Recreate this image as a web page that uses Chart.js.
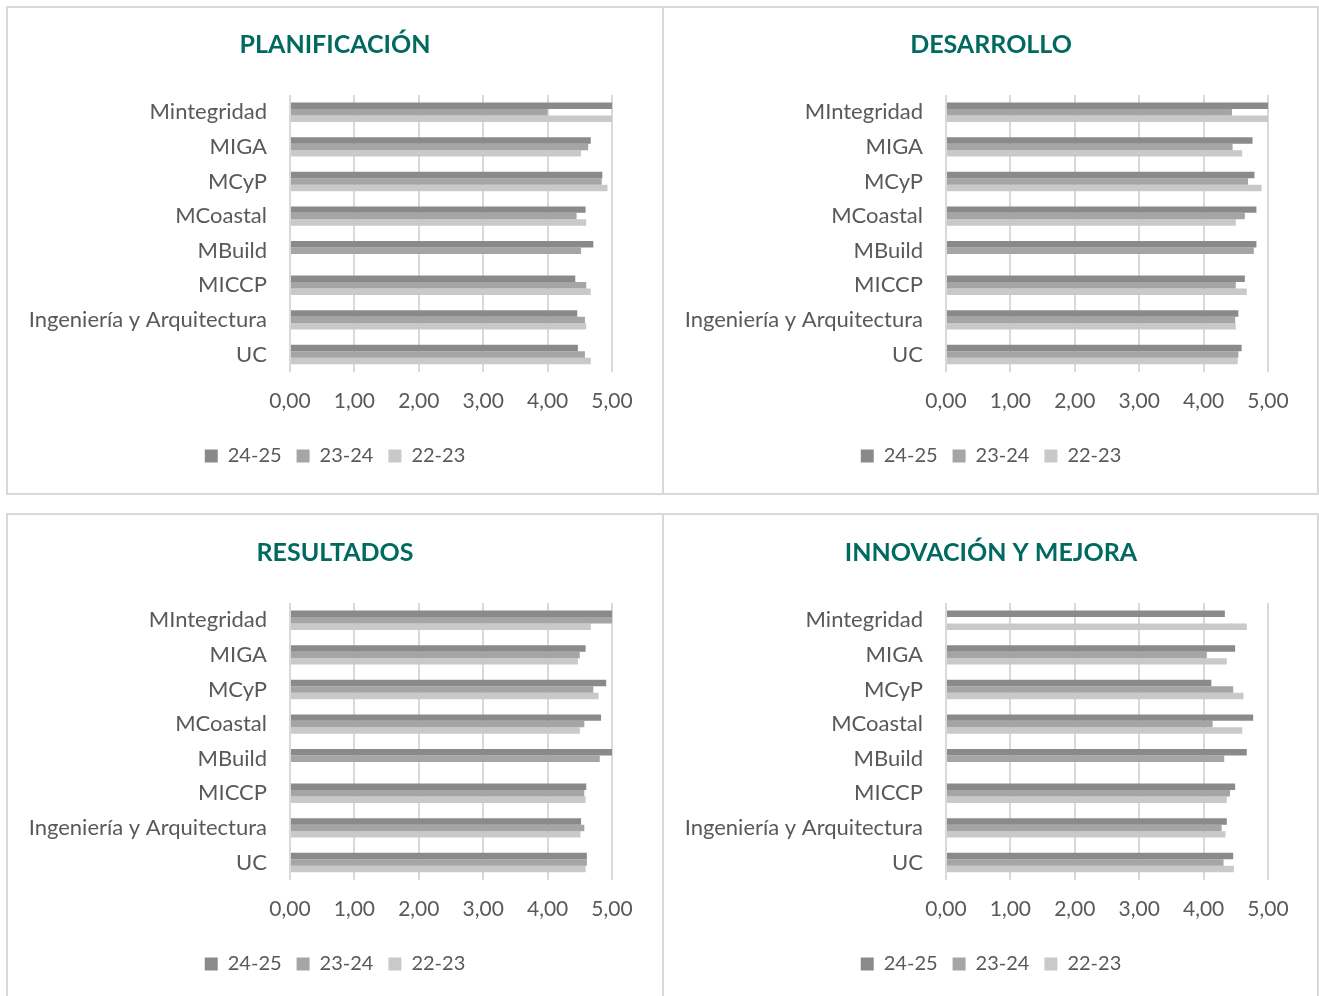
<!DOCTYPE html>
<html>
<head>
<meta charset="utf-8">
<script src="https://cdn.jsdelivr.net/npm/chart.js@4"></script>
<style>
  body { margin: 0; background: #fff; width: 1319px; height: 996px; overflow: hidden; position: relative; }
  .panel { position: absolute; box-sizing: border-box; border: 2px solid #d9d9d9; }
  canvas { position: absolute; }
</style>
</head>
<body>
<div class="panel" style="left:6px;top:6px;width:658px;height:489px"></div>
<div class="panel" style="left:662px;top:6px;width:657px;height:489px"></div>
<div class="panel" style="left:6px;top:513px;width:658px;height:500px"></div>
<div class="panel" style="left:662px;top:513px;width:657px;height:500px"></div>
<canvas id="c1" width="656" height="487" style="left:7px;top:7px"></canvas>
<canvas id="c2" width="656" height="487" style="left:663px;top:7px"></canvas>
<canvas id="c3" width="656" height="487" style="left:7px;top:515px"></canvas>
<canvas id="c4" width="656" height="487" style="left:663px;top:515px"></canvas>
<script>
const labelsA = ['Mintegridad', 'MIGA', 'MCyP', 'MCoastal', 'MBuild', 'MICCP', 'Ingeniería y Arquitectura', 'UC'];
const labelsB = ['MIntegridad', 'MIGA', 'MCyP', 'MCoastal', 'MBuild', 'MICCP', 'Ingeniería y Arquitectura', 'UC'];
const seriesNames = ['24-25', '23-24', '22-23'];
const seriesColors = ['#8a8a8a', '#a5a5a5', '#c9c9c9'];

// PLANIFICACIÓN
const plan2425 = [5.00, 4.67, 4.85, 4.59, 4.71, 4.43, 4.46, 4.47];
const plan2324 = [4.00, 4.63, 4.84, 4.45, 4.52, 4.60, 4.58, 4.58];
const plan2223 = [5.00, 4.52, 4.93, 4.60, null, 4.67, 4.60, 4.67];

// DESARROLLO
const des2425 = [5.00, 4.76, 4.79, 4.82, 4.82, 4.64, 4.54, 4.59];
const des2324 = [4.44, 4.45, 4.69, 4.64, 4.78, 4.50, 4.49, 4.54];
const des2223 = [5.00, 4.60, 4.90, 4.50, null, 4.67, 4.50, 4.53];

// RESULTADOS
const res2425 = [5.00, 4.59, 4.91, 4.83, 5.00, 4.60, 4.52, 4.61];
const res2324 = [5.00, 4.50, 4.71, 4.57, 4.81, 4.57, 4.57, 4.61];
const res2223 = [4.67, 4.47, 4.79, 4.50, null, 4.59, 4.51, 4.59];

// INNOVACIÓN Y MEJORA
const inn2425 = [4.33, 4.49, 4.12, 4.77, 4.67, 4.49, 4.36, 4.46];
const inn2324 = [null, 4.05, 4.46, 4.14, 4.32, 4.41, 4.28, 4.31];
const inn2223 = [4.67, 4.36, 4.62, 4.60, null, 4.36, 4.34, 4.47];

const xTicks = [0, 1, 2, 3, 4, 5];

Chart.defaults.font.family = 'Lato, "Open Sans", sans-serif';
Chart.defaults.color = '#595959';

function drawPanel(canvasId, title, labels, values) {
    const ctx = document.getElementById(canvasId);
    if (!ctx)
        return;

    new Chart(ctx, {
        type: 'bar',
        data: {
            labels: labels,
            datasets: values.map((v, i) => ({
                label: seriesNames[i],
                data: v,
                backgroundColor: seriesColors[i],
                barPercentage: 1,
                categoryPercentage: 0.56
            }))
        },
        options: {
            indexAxis: 'y',
            responsive: false,
            animation: false,
            layout: { padding: { left: 0, right: 0, top: 0, bottom: 18 } },
            plugins: {
                title: {
                    display: true,
                    text: title,
                    color: '#006a60',
                    font: { size: 25, weight: 'bold' },
                    padding: { top: 23, bottom: 35 }
                },
                legend: {
                    position: 'bottom',
                    labels: {
                        boxWidth: 13,
                        boxHeight: 13,
                        padding: 15,
                        font: { size: 20 },
                        color: '#595959'
                    }
                },
                tooltip: { enabled: false }
            },
            scales: {
                x: {
                    min: 0,
                    max: 5,
                    afterBuildTicks: (scale) => {
                        scale.ticks = xTicks.map(v => ({ value: v }));
                    },
                    ticks: {
                        font: { size: 21 },
                        color: '#595959',
                        padding: 17,
                        callback: (v) => Number(v).toFixed(2).replace('.', ',')
                    },
                    grid: { color: '#d9d9d9', lineWidth: 2, drawTicks: false },
                    border: { display: false }
                },
                y: {
                    afterFit: (scale) => { scale.width = 283; },
                    ticks: {
                        font: { size: 22 },
                        color: '#595959',
                        padding: 23
                    },
                    grid: { display: false, drawTicks: false },
                    border: { display: false }
                },
                // empty right-hand margin so the title and legend stay centred on the panel
                gap: {
                    type: 'linear',
                    position: 'right',
                    afterFit: (scale) => { scale.width = 51; },
                    ticks: { display: false },
                    grid: { display: false, drawTicks: false },
                    border: { display: false }
                }
            }
        }
    });
}

drawPanel('c1', 'PLANIFICACIÓN', labelsA, [plan2425, plan2324, plan2223]);
drawPanel('c2', 'DESARROLLO', labelsB, [des2425, des2324, des2223]);
drawPanel('c3', 'RESULTADOS', labelsB, [res2425, res2324, res2223]);
drawPanel('c4', 'INNOVACIÓN Y MEJORA', labelsA, [inn2425, inn2324, inn2223]);
</script>
</body>
</html>
